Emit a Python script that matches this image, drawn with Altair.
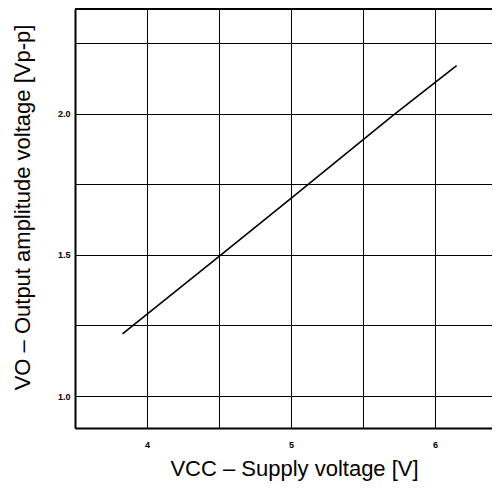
import altair as alt
import pandas as pd

vcc = [3.83, 4.49, 5.0, 5.70, 6.15]
vo = [1.22, 1.49, 1.70, 1.99, 2.17]

x_grid = [3.5, 4.0, 4.5, 5.0, 5.5, 6.0]
y_grid = [1.0, 1.25, 1.5, 1.75, 2.0, 2.25]
x_dom = [3.5, 6.396]
y_dom = [0.887, 2.37]

df = pd.DataFrame({"vcc": vcc, "vo": vo})

W, H = 417, 419
FONT = "Liberation Sans"

line = alt.Chart(df).mark_line(color="black", strokeWidth=1.6).encode(
    x=alt.X("vcc:Q", scale=alt.Scale(domain=x_dom, nice=False, zero=False),
            axis=alt.Axis(values=x_grid, grid=True, gridColor="black", gridOpacity=1, gridWidth=1,
                          labelExpr="datum.value % 1 == 0 ? format(datum.value, 'd') : ''",
                          ticks=False, labelPadding=12, labelFontSize=9, labelFont=FONT,
                          labelFontWeight="bold",
                          labelColor="black", domainColor="black", domainWidth=2,
                          title="VCC – Supply voltage [V]", titleFontSize=22, titleFont=FONT,
                          titleFontWeight="normal", titleColor="black",
                          titleX=219, titleY=40, titleBaseline="middle", titleAlign="center")),
    y=alt.Y("vo:Q", scale=alt.Scale(domain=y_dom, nice=False, zero=False),
            axis=alt.Axis(values=y_grid, grid=True, gridColor="black", gridOpacity=1, gridWidth=1,
                          labelExpr="datum.value * 2 % 1 == 0 ? format(datum.value, '.1f') : ''",
                          ticks=False, labelPadding=5, labelFontSize=9, labelFont=FONT,
                          labelFontWeight="bold",
                          labelColor="black", domainColor="black", domainWidth=2,
                          title="VO – Output amplitude voltage [Vp-p]", titleFontSize=22, titleFont=FONT,
                          titleFontWeight="normal", titleColor="black",
                          titleX=-53, titleY=198, titleAngle=270, titleBaseline="middle",
                          titleAlign="center")),
)

top = alt.Chart(df).mark_rule(color="black", strokeWidth=2).encode(
    x=alt.value(0), x2=alt.value(W), y=alt.value(0)
)

chart = alt.layer(top, line).properties(
    width=W, height=H,
    autosize=alt.AutoSizeParams(type="none"),
    padding={"left": 67, "top": 1, "right": 0, "bottom": 58},
).configure_view(stroke=None).configure(background="white")

chart.save("out.html", embed_options={"renderer": "svg", "actions": False})
